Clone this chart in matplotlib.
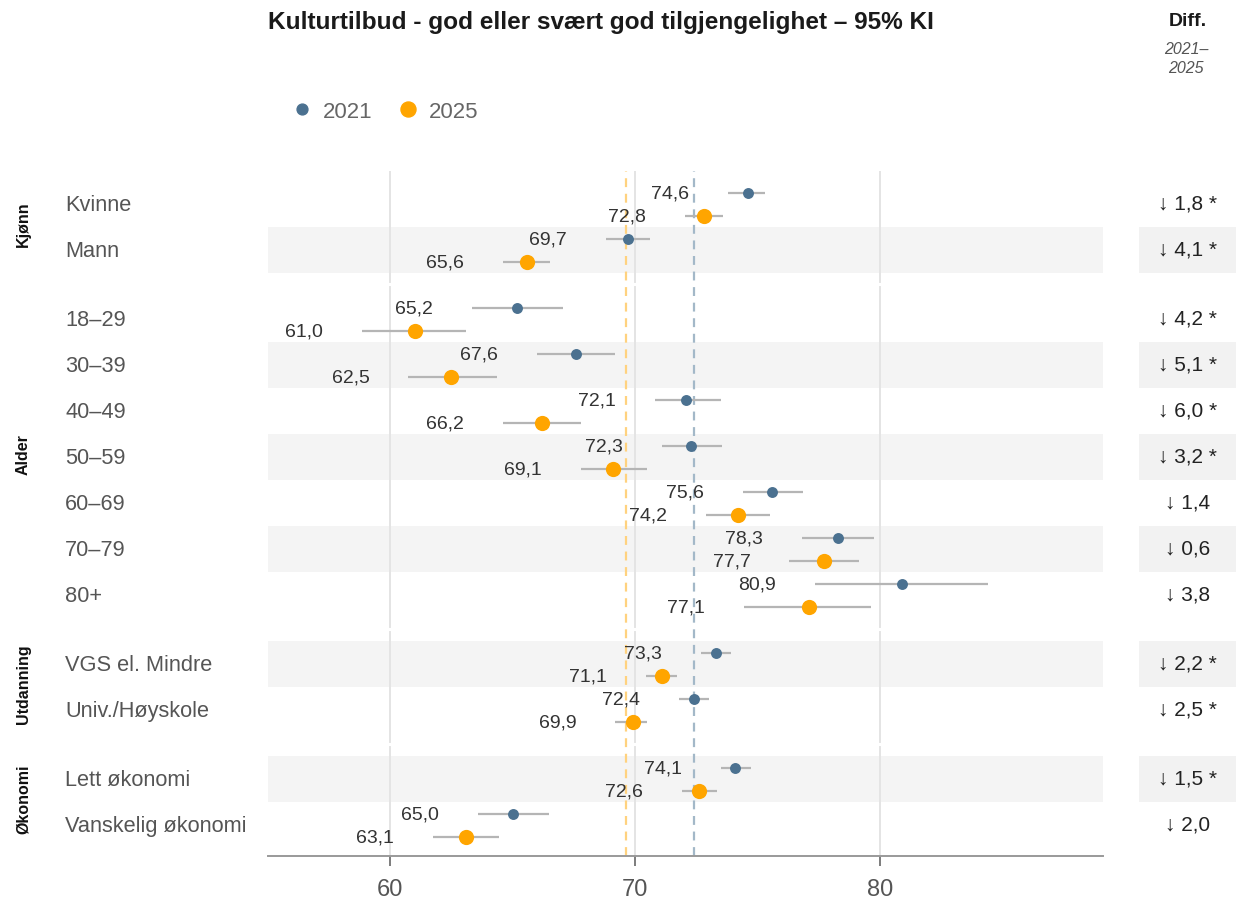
import numpy as np
import matplotlib.pyplot as plt
from matplotlib.lines import Line2D

plt.rcParams['font.family'] = ['Liberation Sans', 'DejaVu Sans']

# data
categories = ['Kvinne', 'Mann', '18–29', '30–39', '40–49', '50–59', '60–69',
              '70–79', '80+', 'VGS el. Mindre', 'Univ./Høyskole',
              'Lett økonomi', 'Vanskelig økonomi']
groups = ['Kjønn'] * 2 + ['Alder'] * 7 + ['Utdanning'] * 2 + ['Økonomi'] * 2

v2021 = [74.6, 69.7, 65.2, 67.6, 72.1, 72.3, 75.6, 78.3, 80.9, 73.3, 72.4, 74.1, 65.0]
lo2021 = [73.8, 68.8, 63.35, 66.0, 70.8, 71.1, 74.4, 76.8, 77.35, 72.7, 71.8, 73.5, 63.6]
hi2021 = [75.3, 70.6, 67.05, 69.2, 73.5, 73.55, 76.85, 79.75, 84.4, 73.9, 73.0, 74.75, 66.5]

v2025 = [72.8, 65.6, 61.0, 62.5, 66.2, 69.1, 74.2, 77.7, 77.1, 71.1, 69.9, 72.6, 63.1]
lo2025 = [72.05, 64.6, 58.85, 60.75, 64.6, 67.8, 72.9, 76.3, 74.45, 70.45, 69.2, 71.9, 61.75]
hi2025 = [73.6, 66.55, 63.1, 64.35, 67.8, 70.5, 75.5, 79.15, 79.65, 71.7, 70.5, 73.35, 64.45]

diff_labels = ['↓ 1,8 *', '↓ 4,1 *', '↓ 4,2 *', '↓ 5,1 *', '↓ 6,0 *', '↓ 3,2 *',
               '↓ 1,4', '↓ 0,6', '↓ 3,8', '↓ 2,2 *', '↓ 2,5 *', '↓ 1,5 *', '↓ 2,0']

avg2021 = 72.4
avg2025 = 69.63

col2021 = '#4b7190'
col2025 = '#ffa500'

# row positions: one unit per row, half a unit between groups
ypos = []
y = 0.0
for i, g in enumerate(groups):
    if i > 0 and g != groups[i - 1]:
        y += 0.5
    ypos.append(y)
    y += 1
ypos = np.array(ypos)

ytop, ybot = -0.72, 14.17

fig = plt.figure(figsize=(12.37, 9.03), dpi=100)
ax = fig.add_axes([268 / 1237, 46 / 903, 835 / 1237, 685 / 903])
axd = fig.add_axes([1139 / 1237, 46 / 903, 97 / 1237, 685 / 903])

# alternating bands
for i, yy in enumerate(ypos):
    if i % 2 == 1:
        ax.axhspan(yy - 0.5, yy + 0.5, color='#f4f4f4', lw=0, zorder=0)
        axd.axhspan(yy - 0.5, yy + 0.5, color='#f2f2f2', lw=0, zorder=0)

# gridlines, broken between groups
starts = [ytop]
ends = []
for i in range(1, len(groups)):
    if groups[i] != groups[i - 1]:
        mid = (ypos[i - 1] + ypos[i]) / 2
        ends.append(mid - 0.06)
        starts.append(mid + 0.06)
ends.append(ybot)
for xg in [60, 70, 80]:
    for s, e in zip(starts, ends):
        ax.plot([xg, xg], [s, e], color='#e4e4e4', lw=1.4, zorder=1)

# average reference lines
ax.axvline(avg2025, color='#ffd27f', lw=1.6, ls=(0, (4, 3)), zorder=1)
ax.axvline(avg2021, color='#a3b8c8', lw=1.6, ls=(0, (4, 3)), zorder=1)

y21 = ypos - 0.25
y25 = ypos + 0.25
ax.hlines(y21, lo2021, hi2021, color='#b5b5b5', lw=1.6, zorder=2)
ax.hlines(y25, lo2025, hi2025, color='#b5b5b5', lw=1.6, zorder=2)
ax.scatter(v2021, y21, s=62, color=col2021, lw=0, zorder=3)
ax.scatter(v2025, y25, s=120, color=col2025, lw=0, zorder=3)

def fmt(v):
    return f'{v:.1f}'.replace('.', ',')

for i in range(len(categories)):
    ax.annotate(fmt(v2021[i]), (lo2021[i], y21[i]), xytext=(-28, 0),
                textcoords='offset points', ha='right', va='center',
                fontsize=14, color='#333333')
    ax.annotate(fmt(v2025[i]), (lo2025[i], y25[i]), xytext=(-28, 0),
                textcoords='offset points', ha='right', va='center',
                fontsize=14, color='#333333')
    # category label
    ax.text(-0.243, ypos[i], categories[i], transform=ax.get_yaxis_transform(),
            ha='left', va='center', fontsize=15.7, color='#555555')
    axd.text(0.5, ypos[i] - 0.03, diff_labels[i], ha='center', va='center',
             fontsize=15, color='#222222', transform=axd.get_yaxis_transform())

# group labels
for g in dict.fromkeys(groups):
    idx = [i for i, gg in enumerate(groups) if gg == g]
    ymid = ypos[idx].mean()
    ax.text(-0.293, ymid - 0.08, g, transform=ax.get_yaxis_transform(), rotation=90,
            ha='center', va='center', fontsize=11.5, fontweight='bold', color='#111111')

ax.set_xlim(55.02, 89.1)
ax.set_ylim(ybot, ytop)
ax.set_yticks([])
ax.set_xticks([60, 70, 80])
ax.tick_params(axis='x', labelsize=17, labelcolor='#555555', color='#666666',
               length=7, width=1.2, pad=9)
for side in ['top', 'left', 'right']:
    ax.spines[side].set_visible(False)
ax.spines['bottom'].set_color('#999999')
ax.spines['bottom'].set_linewidth(1.4)

axd.set_xlim(0, 1)
axd.set_ylim(ybot, ytop)
axd.axis('off')

# titles
fig.text(268 / 1237, 1 - 23 / 903, 'Kulturtilbud - god eller svært god tilgjengelighet – 95% KI',
         ha='left', va='center', fontsize=17.6, fontweight='bold', color='#1a1a1a')
fig.text(1188 / 1237, 1 - 21 / 903, 'Diff.', ha='center', va='center',
         fontsize=14, fontweight='bold', color='#1a1a1a')
fig.text(1186 / 1237, 1 - 59 / 903, '2021–\n2025', ha='center', va='center',
         fontsize=11.5, style='italic', color='#555555', linespacing=1.3)

handles = [Line2D([], [], ls='', marker='o', markersize=7.8, color=col2021),
           Line2D([], [], ls='', marker='o', markersize=10.8, color=col2025)]
fig.legend(handles, ['2021', '2025'], loc='center left',
           bbox_to_anchor=(293 / 1237, 1 - 112 / 903), ncol=2, frameon=False,
           fontsize=16, labelcolor='#666666', handlelength=0.8,
           handletextpad=0.55, columnspacing=1.2, borderaxespad=0, borderpad=0)

plt.savefig('out.png', dpi=100)
